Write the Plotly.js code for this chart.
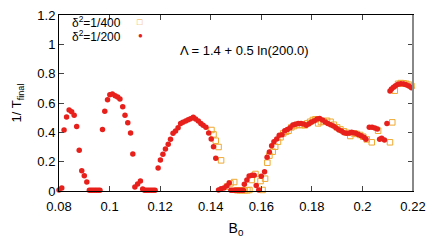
<!DOCTYPE html>
<html><head><meta charset="utf-8">
<script src="https://cdn.plot.ly/plotly-3.0.1.min.js"></script>
<style>html,body{margin:0;padding:0;background:#fff}</style>
</head><body><div id="c" style="width:436px;height:244px"></div>
<script>
const redX = [0.0800,0.0811,0.0820,0.0830,0.0840,0.0850,0.0860,0.0870,0.0880,0.0890,0.0900,0.0910,
0.0920,0.0927,0.0934,0.0941,0.0948,0.0955,0.0962,0.0972,0.0981,0.0992,0.1001,0.1011,0.1022,0.1032,0.1041,
0.1052,0.1061,0.1072,0.1083,0.1092,0.1100,0.1111,0.1122,0.1131,0.1138,0.1145,0.1152,0.1159,0.1166,0.1173,0.1180,
0.1192,0.1201,0.1211,0.1221,0.1232,0.1241,0.1251,0.1261,0.1271,0.1281,0.1290,0.1301,0.1311,0.1320,0.1331,
0.1340,0.1351,0.1361,0.1370,0.1381,0.1392,0.1402,0.1411,0.1420,0.1431,0.1441,0.1452,0.1463,0.1473,
0.1480,0.1487,0.1494,0.1501,0.1508,0.1515,0.1522,0.1529,0.1533,0.1543,0.1552,0.1563,0.1572,0.1580,0.1590,
0.1600,0.1613,0.1623,0.1632,0.1641,0.1650,0.1661,0.1671,0.1682,0.1693,0.1703,0.1714,0.1725,0.1735,0.1746,
0.1757,0.1767,0.1778,0.1789,0.1799,0.1810,0.1821,0.1831,0.1842,0.1853,0.1863,0.1874,0.1885,0.1895,0.1906,
0.1917,0.1927,0.1938,0.1949,0.1957,0.1963,0.1974,0.1984,0.1995,0.2006,0.2014,0.2027,0.2038,0.2049,0.2059,
0.2068,0.2076,0.2087,0.2097,0.2109,0.2115,0.2123,0.2131,0.2141,0.2152,0.2163,0.2173,0.2184,0.2194,0.2203];
const redY = [0.007,0.020,0.416,0.505,0.552,0.540,0.516,0.440,0.277,0.138,0.104,0.061,
0.005,0.005,0.005,0.005,0.005,0.005,0.005,0.420,0.543,0.622,0.657,0.661,0.650,0.641,0.627,
0.575,0.516,0.466,0.395,0.252,0.027,0.048,0.068,0.014,0.005,0.005,0.005,0.005,0.005,0.005,0.005,
0.157,0.211,0.250,0.286,0.318,0.352,0.393,0.409,0.432,0.461,0.468,0.477,0.486,0.493,0.502,
0.491,0.477,0.461,0.448,0.434,0.395,0.354,0.302,0.223,0.007,0.016,0.020,0.034,0.055,
0.005,0.005,0.005,0.005,0.005,0.005,0.005,0.005,0.046,0.075,0.102,0.107,0.107,0.037,0.007,
0.100,0.132,0.230,0.266,0.309,0.336,0.355,0.380,0.384,0.411,0.420,0.431,0.450,0.455,0.461,
0.461,0.457,0.448,0.459,0.470,0.479,0.491,0.495,0.484,0.470,0.461,0.452,0.443,0.431,0.418,
0.409,0.397,0.393,0.395,0.400,0.397,0.393,0.386,0.377,0.366,0.352,0.434,0.434,0.429,0.423,
0.352,0.359,0.348,0.461,0.682,0.695,0.707,0.718,0.727,0.731,0.729,0.725,0.716,0.704,0.690];

const yelX = [0.1403,0.1411,0.1420,0.1431,0.1441,0.1464,0.1478,0.1493,0.1505,0.1515,0.1525,0.1535,0.1545,0.1553,
0.1562,0.1577,0.1597,0.1605,0.1615,0.1624,0.1632,0.1645,0.1655,0.1666,0.1676,0.1687,0.1698,0.1708,0.1719,
0.1730,0.1740,0.1751,0.1761,0.1772,0.1782,0.1793,0.1804,0.1814,0.1825,0.1836,0.1847,0.1860,0.1874,0.1887,
0.1900,0.1913,0.1927,0.1940,0.1952,0.1966,0.1978,0.1991,0.2003,0.2017,0.2037,0.2062,0.2109,0.2118,
0.2128,0.2141,0.2152,0.2163,0.2173,0.2184,0.2194,0.2205,0.2221];
const yelY = [0.416,0.386,0.343,0.300,0.209,0.030,0.052,0.061,0.005,0.005,0.005,0.005,0.005,0.007,
0.075,0.116,0.068,0.007,0.084,0.193,0.241,0.268,0.302,0.336,0.366,0.393,0.404,0.411,0.434,
0.443,0.450,0.450,0.450,0.448,0.461,0.472,0.484,0.489,0.461,0.470,0.475,0.479,0.472,0.452,
0.434,0.420,0.407,0.397,0.375,0.393,0.389,0.382,0.370,0.352,0.332,0.411,0.332,0.468,
0.684,0.731,0.736,0.734,0.731,0.725,0.716,0.702,0.688];

const xTicks = [0.08,0.1,0.12,0.14,0.16,0.18,0.2,0.22];
const xTickText = ['0.08','0.1','0.12','0.14','0.16','0.18','0.2','0.22'];
const yTicks = [0,0.2,0.4,0.6,0.8,1,1.2];
const yTickText = ['0','0.2','0.4','0.6','0.8','1','1.2'];
const legendNames = ['δ<sup>2</sup>=1/400','δ<sup>2</sup>=1/200'];
const annoText = 'Λ = 1.4 + 0.5 ln(200.0)';

const FONT = 'Liberation Sans, Arial, sans-serif';
const traces = [
  {x: yelX, y: yelY, mode:'markers', type:'scatter', name: legendNames[0], cliponaxis:false,
   marker:{symbol:'square-open', size:5.5, color:'#f0a830', line:{width:1, color:'#f0a830'}}},
  {x: redX, y: redY, mode:'markers', type:'scatter', name: legendNames[1], cliponaxis:false,
   marker:{symbol:'circle', size:5.5, color:'#e8201c'}}
];
const layout = {
  width:436, height:244,
  margin:{l:59, r:23, t:15, b:53},
  paper_bgcolor:'#fff', plot_bgcolor:'#fff',
  showlegend:false,
  font:{family:FONT, size:13, color:'#000'},
  xaxis:{range:[0.08,0.22], tickvals:xTicks, ticktext:xTickText, ticks:'inside', ticklen:5,
    showline:true, linecolor:'#000', linewidth:1, mirror:'ticks', showgrid:false, zeroline:false,
    ticklabelstandoff:3,
    tickfont:{size:13}, title:{text:'B<sub>0</sub>', font:{size:14}, standoff:10}},
  yaxis:{range:[0,1.2], tickvals:yTicks, ticktext:yTickText, ticks:'inside', ticklen:5,
    showline:true, linecolor:'#000', linewidth:1, mirror:'ticks', showgrid:false, zeroline:false,
    tickfont:{size:13}, title:{text:'1/ T<sub>final</sub>', font:{size:13}, standoff:12}},
  shapes:[
    {type:'line', xref:'paper', yref:'paper', x0:1, x1:1, y0:0, y1:1, line:{color:'#888', width:2}}
  ],
  annotations:[
    {xref:'paper', yref:'paper', x:0.03, y:0.96, xanchor:'left', yanchor:'middle', showarrow:false,
     text:legendNames[0], font:{size:12}},
    {xref:'paper', yref:'paper', x:0.03, y:0.882, xanchor:'left', yanchor:'middle', showarrow:false,
     text:legendNames[1], font:{size:12}},
    {xref:'paper', yref:'paper', x:0.229, y:0.963, xanchor:'center', yanchor:'middle', showarrow:false,
     text:'□', font:{size:9, color:'#f0a830'}},
    {xref:'paper', yref:'paper', x:0.229, y:0.885, xanchor:'center', yanchor:'middle', showarrow:false,
     text:'●', font:{size:8, color:'#e8201c'}},
    {xref:'paper', yref:'paper', x:0.525, y:0.8, xanchor:'center', yanchor:'middle', showarrow:false,
     text:annoText, font:{size:13}}
  ]
};
Plotly.newPlot('c', traces, layout, {staticPlot:true, displayModeBar:false});
</script></body></html>
